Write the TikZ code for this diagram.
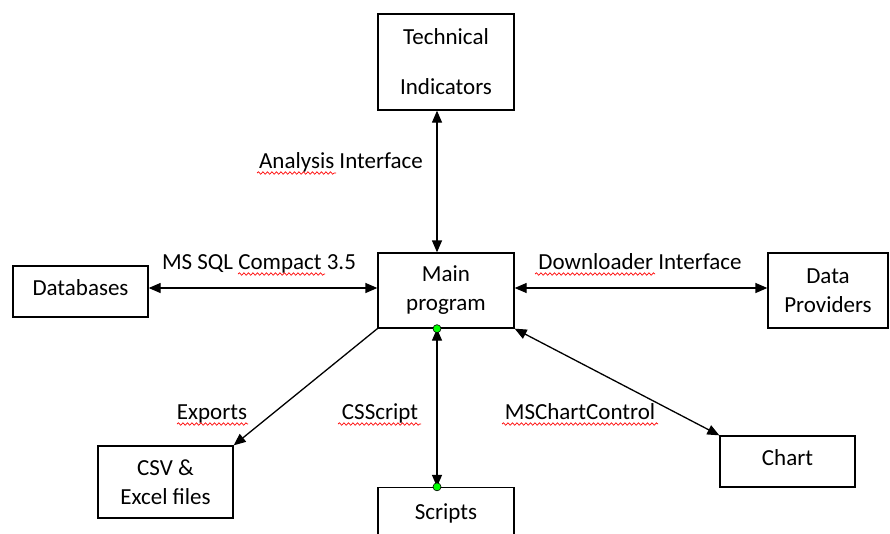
\documentclass[tikz,border=0pt]{standalone}
\usepackage{fontspec}
\setmainfont{Carlito}
\usetikzlibrary{arrows.meta,decorations.pathmorphing}

\begin{document}
\begin{tikzpicture}[x=1pt,y=-1pt,
  box/.style={draw, line width=1.3pt, inner sep=0pt, align=center,
    font=\fontsize{23}{29}\selectfont},
  lbl/.style={anchor=base, inner sep=0pt, font=\fontsize{23}{27}\selectfont},
  link/.style={line width=1.3pt, {Triangle[length=12pt,width=10pt]}-{Triangle[length=12pt,width=10pt]}},
  oneway/.style={line width=1.3pt, -{Triangle[length=12pt,width=10pt]}},
  dot/.style={circle, draw=black, line width=0.6pt, fill=green, minimum size=8pt, inner sep=0pt},
  squiggle/.style={draw=red, line width=0.7pt,
    decorate, decoration={snake, amplitude=1.2pt, segment length=4.5pt}}]

\clip (0,0) rectangle (890,533);
\fill[white] (0,0) rectangle (890,533);

% component boxes
\node[box, minimum width=136pt, minimum height=96pt,
  font=\fontsize{23}{50}\selectfont] (ti) at (446,62) {Technical\\Indicators};
\node[box, minimum width=136pt, minimum height=75pt] (main) at (446,290.5) {Main\\program};
\node[box, minimum width=135pt, minimum height=51pt, text depth=7pt] (db) at (80.5,291.5) {Databases};
\node[box, minimum width=120pt, minimum height=75pt] (dp) at (828,290.5) {Data\\Providers};
\node[box, minimum width=135pt, minimum height=72pt] (csv) at (165.5,482) {CSV \&\\Excel files};
\node[box, minimum width=136pt, minimum height=52pt] (scripts) at (446,513.5) {Scripts};
\node[box, minimum width=135pt, minimum height=51pt, text depth=7pt] (chart) at (787.5,461.5) {Chart};

% guide lines for the connectors
\coordinate (vx) at (437,0);
\coordinate (hy) at (0,288);

% connectors
\draw[link] (ti.south -| vx) -- (main.north -| vx);
\draw[link] (db.east |- hy) -- (main.west |- hy);
\draw[link] (main.east |- hy) -- (dp.west |- hy);
\draw[oneway] (main.south west) -- (csv.north east);
\draw[link] (main.south -| vx) -- (scripts.north -| vx);
\draw[link] (main.south east) -- (chart.north west);

\node[dot] (d1) at (main.south -| vx) {};
\node[dot] (d2) at (scripts.north -| vx) {};

% connector labels
\node[lbl] (l1) at (341,168) {Analysis Interface};
\node[lbl] (l2) at (259,269) {MS SQL Compact 3.5};
\node[lbl] (l3) at (640,269) {Downloader Interface};
\node[lbl] (l4) at (212,419) {Exports};
\node[lbl] (l5) at (380,419) {CSScript};
\node[lbl] (l6) at (580,419) {MSChartControl};

% spell-check underlines
\draw[squiggle] (257,173) -- (336,173);
\draw[squiggle] (238,274) -- (325,274);
\draw[squiggle] (535,274) -- (655,274);
\draw[squiggle] (177,424) -- (248,424);
\draw[squiggle] (338,424) -- (421,424);
\draw[squiggle] (502,424) -- (658,424);
\end{tikzpicture}
\end{document}
